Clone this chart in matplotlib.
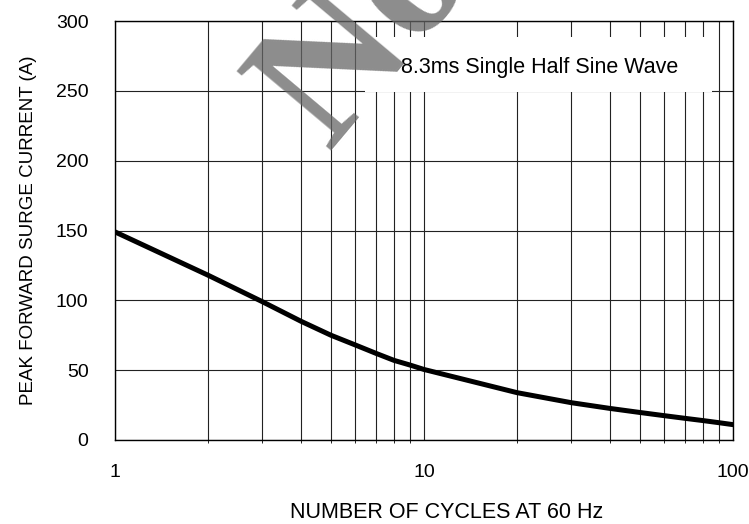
import matplotlib.pyplot as plt
from matplotlib.patches import Rectangle

plt.rcParams['font.family'] = ['Liberation Sans', 'DejaVu Sans']

# surge current curve
cycles = [1, 2, 3, 4, 5, 6, 7, 8, 9, 10, 20, 30, 40, 50, 60, 70, 80, 90, 100]
current = [149, 118, 99, 85, 75, 68, 62, 57, 53.7, 50.5, 33.9, 26.7, 22.6,
           19.7, 17.4, 15.5, 13.9, 12.4, 11.0]

yticks = [0, 50, 100, 150, 200, 250, 300]
xticks = [1, 10, 100]

W, H = 749, 524
fig = plt.figure(figsize=(W / 100, H / 100), dpi=100)
ax = fig.add_axes([115 / W, 1 - 440 / H, (733 - 115) / W, (440 - 21) / H])

ax.plot(cycles, current, color='black', linewidth=3.6, solid_capstyle='round',
        solid_joinstyle='round', zorder=4)

ax.set_xscale('log')
ax.set_xlim(1, 100)
ax.set_ylim(0, 300)
ax.set_xticks(xticks)
ax.set_xticklabels([str(t) for t in xticks])
ax.set_yticks(yticks)
ax.tick_params(length=0, labelsize=14)
ax.tick_params(axis='x', pad=17)
ax.tick_params(axis='y', pad=19)

ax.grid(True, which='major', color='#222222', linewidth=0.8)
ax.grid(True, which='minor', axis='x', color='#222222', linewidth=0.8)
for s in ax.spines.values():
    s.set_linewidth(1.0)

ax.set_xlabel('NUMBER OF CYCLES AT 60 Hz', fontsize=15.5)
ax.xaxis.set_label_coords(0.537, -0.148)
ax.set_ylabel('PEAK FORWARD SURGE CURRENT (A)', fontsize=13.5, labelpad=14)

# white box behind the note hides the grid
ax.add_patch(Rectangle((365 / W, 1 - 92 / H), (712 - 365) / W, 55 / H,
                       transform=fig.transFigure, facecolor='white',
                       edgecolor='none', zorder=3))
fig.text(540 / W, 1 - 67 / H, '8.3ms Single Half Sine Wave', fontsize=15.5,
         ha='center', va='center', zorder=5)

# watermark, mostly cut off at the top
fig.text(0.49, 0.935, 'No', fontsize=135, family='Liberation Serif', fontweight='bold',
         color='#666666', alpha=0.75, rotation=50, ha='center', va='center', zorder=10)

fig.savefig('out.png', dpi=100)
